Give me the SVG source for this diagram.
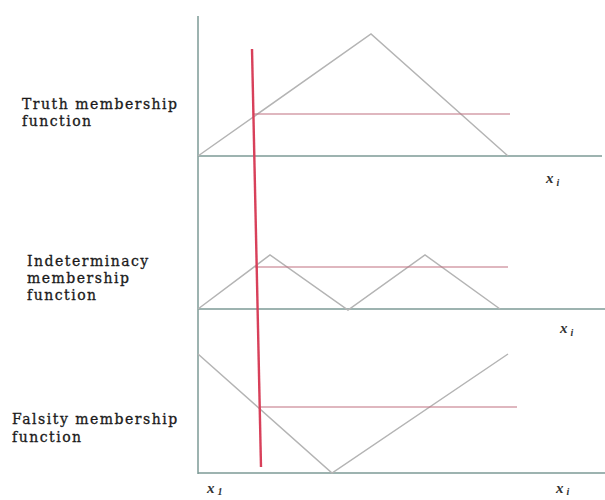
<svg xmlns="http://www.w3.org/2000/svg" width="605" height="500" viewBox="0 0 605 500">
<style>
.axis{stroke:#7d9a96;stroke-width:1.5;fill:none}
.mf{stroke:#b4b4b4;stroke-width:1.5;fill:none}
.lvl{stroke:#c07080;stroke-width:1.2;fill:none}
.cut{stroke:#d8405a;stroke-width:2.4;fill:none}
.lab{font-family:"DejaVu Serif","Liberation Serif",serif;font-size:14px;letter-spacing:1.5px;fill:#1a1a1a;stroke:#1a1a1a;stroke-width:0.3}
.var{font-family:"Liberation Serif","DejaVu Serif",serif;font-size:15px;font-style:italic;font-weight:bold;fill:#333}
.sub{font-size:10px}
</style>
<rect width="605" height="500" fill="#fff"/>
<g id="axes">
<line class="axis" x1="198" y1="16" x2="198" y2="474"/>
<line class="axis" x1="198" y1="156" x2="602" y2="156"/>
<line class="axis" x1="198" y1="309" x2="605" y2="309"/>
<line class="axis" x1="198" y1="473" x2="605" y2="473"/>
</g>
<g id="truth">
<polyline class="mf" points="198,156 371,34 508,156"/>
<line class="lvl" x1="253" y1="114" x2="510" y2="114"/>
<text class="lab" x="22" y="109">Truth membership</text>
<text class="lab" x="22" y="126">function</text>
<text class="var" x="546" y="183">x<tspan class="sub" dx="3" dy="3">i</tspan></text>
</g>
<g id="indeterminacy">
<polyline class="mf" points="198,309 270,255 348,310 425,255 500,309"/>
<line class="lvl" x1="255" y1="267" x2="508" y2="267"/>
<text class="lab" x="27" y="266">Indeterminacy</text>
<text class="lab" x="27" y="283">membership</text>
<text class="lab" x="27" y="300">function</text>
<text class="var" x="560" y="333">x<tspan class="sub" dx="3" dy="3">i</tspan></text>
</g>
<g id="falsity">
<polyline class="mf" points="198,354 332,473 508,354"/>
<line class="lvl" x1="260" y1="407" x2="517" y2="407"/>
<text class="lab" x="12" y="424">Falsity membership</text>
<text class="lab" x="12" y="442">function</text>
<text class="var" x="207" y="493">x<tspan class="sub" dx="3" dy="2">1</tspan></text>
<text class="var" x="556" y="493">x<tspan class="sub" dx="3" dy="2">i</tspan></text>
</g>
<g id="connectors">
<line class="cut" x1="252" y1="49" x2="261" y2="467"/>
</g>
</svg>
